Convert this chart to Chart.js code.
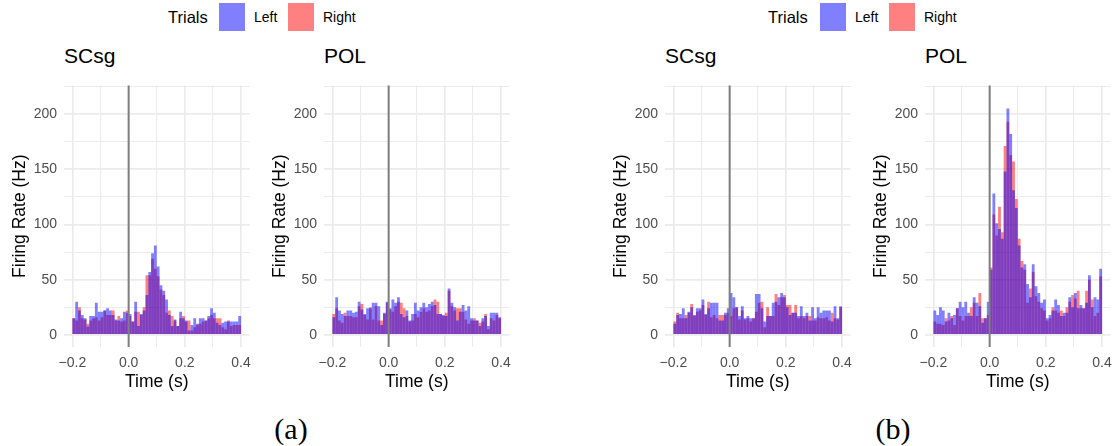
<!DOCTYPE html>
<html>
<head>
<meta charset="utf-8">
<script src="https://cdn.jsdelivr.net/npm/chart.js@4.4.1/dist/chart.umd.min.js"></script>
<style>
  body { margin: 0; background: #fff; font-family: 'Liberation Sans', Arial, sans-serif; }
  #page { position: relative; width: 1120px; height: 446px; overflow: hidden; background: #fff; }
  .panel { position: absolute; top: 70px; }
  .title { position: absolute; top: 45px; font-size: 21px; line-height: 21px; color: #000; }
  .ltitle { position: absolute; top: 3px; height: 28px; line-height: 28px; font-size: 16.5px; color: #000; }
  .ltext { position: absolute; top: 3px; height: 28px; line-height: 28px; font-size: 14px; color: #000; }
  .swatch { position: absolute; top: 3px; width: 26px; height: 28px; }
  .caption { position: absolute; top: 414px; width: 60px; text-align: center; font-family: 'Liberation Serif', 'DejaVu Serif', serif; font-size: 30px; line-height: 30px; color: #000; }
</style>
</head>
<body>
<div id="page">
  <!-- legend (a) -->
  <div class="ltitle" style="left:168px">Trials</div>
  <div class="swatch" style="left:219px;background:#8080FF"></div>
  <div class="ltext" style="left:254px">Left</div>
  <div class="swatch" style="left:288px;background:#FF8080"></div>
  <div class="ltext" style="left:323px">Right</div>
  <!-- legend (b) -->
  <div class="ltitle" style="left:768px">Trials</div>
  <div class="swatch" style="left:820px;background:#8080FF"></div>
  <div class="ltext" style="left:855px">Left</div>
  <div class="swatch" style="left:889px;background:#FF8080"></div>
  <div class="ltext" style="left:924px">Right</div>

  <div class="title" style="left:64px">SCsg</div>
  <div class="title" style="left:324px">POL</div>
  <div class="title" style="left:665px">SCsg</div>
  <div class="title" style="left:925px">POL</div>

  <div class="panel" style="left:0px"><canvas id="c1" width="259" height="323"></canvas></div>
  <div class="panel" style="left:260px"><canvas id="c2" width="259" height="323"></canvas></div>
  <div class="panel" style="left:601px"><canvas id="c3" width="259" height="323"></canvas></div>
  <div class="panel" style="left:861px"><canvas id="c4" width="259" height="323"></canvas></div>

  <div class="caption" style="left:261px">(a)</div>
  <div class="caption" style="left:863px">(b)</div>
</div>
<script>
// 10 ms bins from -0.2 s to 0.4 s
const binStart = -0.2;
const binWidth = 0.01;
const binCount = 60;
const binCentres = [];
for (let i = 0; i < binCount; i++) {
    binCentres.push(+(binStart + binWidth * (i + 0.5)).toFixed(3));
}

const xTickValues = [-0.2, -0.1, 0, 0.1, 0.2, 0.3, 0.4];
const xTickLabels = ['\u22120.2', '', '0.0', '', '0.2', '', '0.4'];
const yTickValues = [0, 25, 50, 75, 100, 125, 150, 175, 200, 225];
const yTickLabels = ['0', '', '50', '', '100', '', '150', '', '200', ''];

// (a) SCsg
const scsgALeft = [15, 30, 22, 18, 15, 7.5, 17, 17, 29, 21,
    21, 22, 24, 22, 18, 14, 13, 15, 21, 20,
    19, 12, 30, 8, 19, 22, 36, 57, 74, 81,
    62, 45, 40, 32, 18, 8, 14, 8, 21, 15,
    13, 4, 9, 15, 10, 15, 15, 13, 17, 24,
    20, 11, 9, 11, 12, 12, 12, 12, 12, 17];
const scsgARight = [15, 13, 25, 15, 14, 10, 13, 15, 16, 13,
    16, 22, 18, 18, 22, 13, 17, 12, 13, 22,
    17, 12, 21, 21, 18, 25, 54, 54, 69, 60,
    53, 41, 36, 20, 22, 17, 13, 8, 15, 17,
    12, 13, 4, 7, 9, 10, 12, 13, 15, 18,
    15, 15, 15, 7, 5, 13, 8, 9, 9, 9];

// (a) POL
const polALeft = [16, 34, 22, 19, 17, 22, 22, 20, 21, 30,
    23, 19, 24, 24, 29, 29, 26, 9, 20, 30,
    24, 32, 29, 34, 19, 16, 22, 13, 19, 29,
    22, 25, 29, 25, 28, 30, 27, 19, 19, 18,
    17, 42, 29, 25, 13, 21, 27, 22, 26, 15,
    13, 13, 8, 15, 17, 8, 20, 20, 20, 16];
const polARight = [19, 24, 13, 11, 20, 17, 17, 16, 16, 26,
    28, 18, 14, 25, 14, 26, 13, 13, 19, 29,
    23, 21, 26, 30, 29, 24, 17, 12, 13, 19,
    16, 21, 24, 21, 22, 26, 32, 30, 19, 17,
    20, 40, 26, 22, 24, 24, 21, 14, 10, 13,
    15, 13, 11, 12, 19, 5, 15, 13, 18, 15];

// (b) SCsg
const scsgBLeft = [10, 18, 19, 24, 15, 21, 25, 18, 24, 24,
    32, 19, 24, 29, 29, 29, 13, 13, 20, 24,
    38, 34, 25, 17, 26, 15, 17, 15, 15, 37,
    37, 24, 12, 17, 17, 29, 30, 34, 38, 34,
    25, 18, 20, 20, 17, 26, 17, 20, 13, 25,
    15, 25, 20, 22, 22, 22, 12, 26, 15, 26];
const scsgBRight = [12, 20, 15, 15, 18, 20, 28, 17, 21, 22,
    27, 18, 30, 16, 18, 15, 18, 18, 18, 20,
    17, 24, 25, 14, 22, 14, 15, 12, 15, 21,
    29, 30, 7, 25, 17, 17, 37, 27, 34, 36,
    27, 27, 20, 27, 15, 17, 15, 17, 17, 13,
    13, 16, 15, 15, 16, 13, 20, 15, 14, 25];

// (b) POL
const polBLeft = [22, 18, 25, 22, 12, 20, 15, 18, 24, 30,
    25, 30, 20, 17, 34, 29, 26, 11, 15, 30,
    59, 128, 101, 96, 87, 148, 205, 182, 131, 115,
    81, 61, 64, 46, 34, 64, 44, 38, 29, 32,
    15, 18, 22, 32, 27, 17, 20, 20, 34, 25,
    38, 24, 27, 24, 29, 54, 25, 34, 32, 60];
const polBRight = [12, 10, 10, 9, 15, 13, 17, 9, 24, 17,
    13, 17, 17, 25, 29, 17, 38, 15, 15, 18,
    61, 109, 90, 116, 93, 171, 193, 163, 157, 123,
    87, 67, 59, 29, 42, 57, 35, 30, 24, 22,
    13, 15, 25, 22, 20, 22, 17, 25, 30, 36,
    33, 40, 24, 24, 40, 50, 32, 17, 20, 53];

Chart.defaults.font.family = "'Liberation Sans', Arial, sans-serif";

// grey vertical line at t = 0
const zeroLine = {
    id: 'zeroLine',
    afterDatasetsDraw(chart) {
        const x = chart.scales.x.getPixelForValue(0);
        const area = chart.chartArea;
        const ctx = chart.ctx;
        ctx.save();
        ctx.strokeStyle = '#7F7F7F';
        ctx.lineWidth = 2;
        ctx.beginPath();
        ctx.moveTo(x, area.top);
        ctx.lineTo(x, area.bottom);
        ctx.stroke();
        ctx.restore();
    }
};

function makePanel(canvasId, leftData, rightData) {
    return new Chart(document.getElementById(canvasId), {
        type: 'bar',
        data: {
            labels: binCentres,
            datasets: [
                { label: 'Left', data: leftData, backgroundColor: 'rgba(0,0,255,0.5)', borderWidth: 0, inflateAmount: 0 },
                { label: 'Right', data: rightData, backgroundColor: 'rgba(255,0,0,0.5)', borderWidth: 0, inflateAmount: 0 }
            ]
        },
        options: {
            responsive: false,
            animation: false,
            datasets: { bar: { grouped: false, barPercentage: 1, categoryPercentage: 1 } },
            layout: { padding: { left: 0, right: 5, top: 12, bottom: 0 } },
            plugins: { legend: { display: false }, tooltip: { enabled: false } },
            scales: {
                x: {
                    type: 'linear',
                    min: -0.23,
                    max: 0.43,
                    offset: false,
                    afterBuildTicks: s => { s.ticks = xTickValues.map(v => ({ value: v })); },
                    afterFit: s => { s.height = 46; },
                    ticks: {
                        autoSkip: false,
                        maxRotation: 0,
                        padding: 8,
                        color: '#4D4D4D',
                        font: { size: 14 },
                        callback: (v, i) => xTickLabels[i]
                    },
                    grid: {
                        color: '#EBEBEB',
                        lineWidth: ctx => xTickLabels[ctx.index] ? 1.7 : 1.1,
                        drawTicks: false,
                        offset: false
                    },
                    border: { display: false },
                    title: {
                        display: true,
                        text: 'Time (s)',
                        color: '#000',
                        font: { size: 17.5 },
                        padding: { top: 0, bottom: 0.5 }
                    }
                },
                y: {
                    min: -11,
                    max: 226,
                    afterBuildTicks: s => { s.ticks = yTickValues.map(v => ({ value: v })); },
                    afterFit: s => { s.width = 64; },
                    ticks: {
                        autoSkip: false,
                        padding: 7,
                        color: '#4D4D4D',
                        font: { size: 14 },
                        callback: (v, i) => yTickLabels[i]
                    },
                    grid: {
                        color: '#EBEBEB',
                        lineWidth: ctx => yTickLabels[ctx.index] ? 1.7 : 1.1,
                        drawTicks: false
                    },
                    border: { display: false },
                    title: {
                        display: true,
                        text: 'Firing Rate (Hz)',
                        color: '#000',
                        font: { size: 17.5 },
                        padding: { top: 9.5, bottom: 0 }
                    }
                }
            }
        },
        plugins: [zeroLine]
    });
}

makePanel('c1', scsgALeft, scsgARight);
makePanel('c2', polALeft, polARight);
makePanel('c3', scsgBLeft, scsgBRight);
makePanel('c4', polBLeft, polBRight);
</script>
</body>
</html>
